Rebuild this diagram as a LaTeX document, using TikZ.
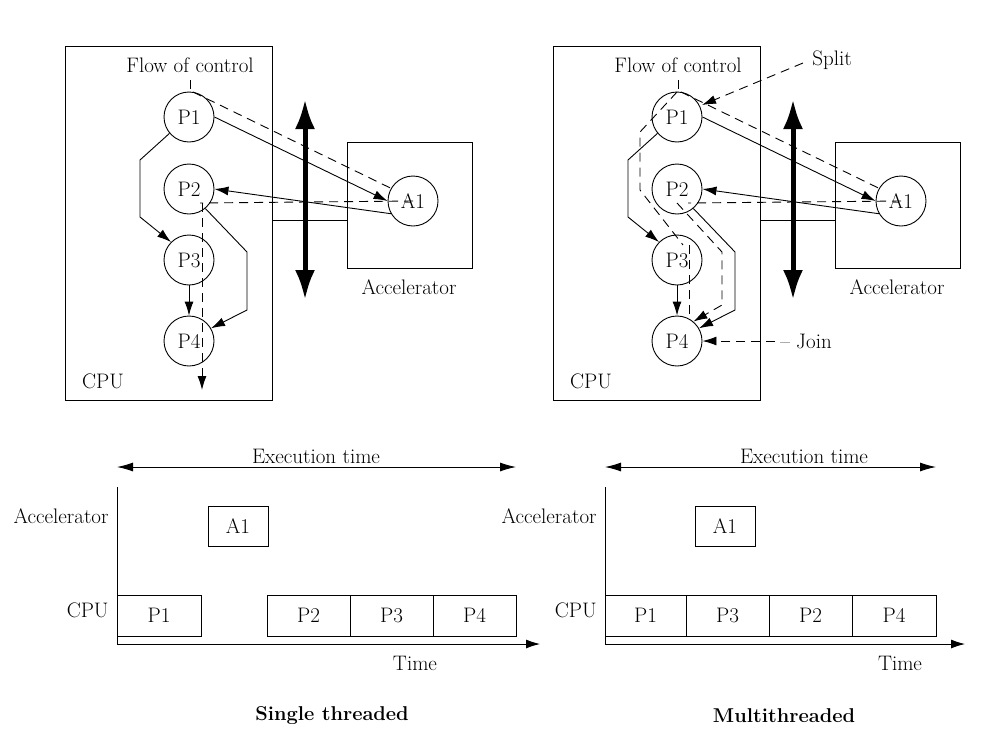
\documentclass[tikz,border=0pt]{standalone}
\usetikzlibrary{arrows.meta}
\begin{document}
\begin{tikzpicture}[x=1pt,y=-1pt,line width=0.9pt,
  font=\fontsize{21}{24}\selectfont,
  proc/.style={circle,draw,minimum size=50pt,inner sep=0pt},
  box/.style={draw,inner sep=0pt},
  arr/.style={-{Latex[length=14pt,width=9pt]}},
  dsh/.style={dash pattern=on 9pt off 6pt},
  big/.style={line width=5pt,{Latex[length=30pt,width=20pt]}-{Latex[length=30pt,width=20pt]}},
  lab/.style={inner sep=1pt}]
\useasboundingbox (0,0) rectangle (1003,747);
\foreach \o/\s in {0/L,488/R}{
\begin{scope}[xshift=\o pt]
  \node[box,minimum width=207pt,minimum height=354pt] (cpu\s) at (168.5,223) {};
  \node[box,minimum width=125pt,minimum height=126pt] (acc\s) at (409.5,205) {};
  \node[lab] (flow\s) at (190,65) {Flow of control};
  \node[lab] (cpul\s) at (103,381) {CPU};
  \node[lab] (accl\s) at (409,287) {Accelerator};
  \node[proc] (P1\s) at (189,117) {P1};
  \node[proc] (P2\s) at (189,189) {P2};
  \node[proc] (P3\s) at (189,260) {P3};
  \node[proc] (P4\s) at (189,341) {P4};
  \node[proc] (A1\s) at (413,201) {A1};
  \draw (cpu\s.east |- 0,220) -- (acc\s.west |- 0,220);
  \coordinate (bt\s) at (305,99); \coordinate (bb\s) at (305,300);
  \draw[big] (bt\s) -- (bb\s);
  \draw[dsh] (190,80) -- (190,92);
  \draw[arr] (P1\s.east) -- (A1\s.west);
  \draw[dsh] (193,92) -- (A1\s.150);
  \draw[arr] (A1\s.210) -- (P2\s.east);
  \draw[dsh] (A1\s.center) -- (200,203);
  \draw[arr] (P1\s.220) -- (140,160) -- (140,217) -- (P3\s.135);
  \draw[arr] (P2\s.-50) -- (247,252) -- (247,310) -- (P4\s.30);
  \draw[arr] (P3\s) -- (P4\s);
  % timeline
  \node[lab,anchor=east] (tacc\s) at (110,516) {Accelerator};
  \node[lab,anchor=east] (tcpu\s) at (110,610) {CPU};
  \node[lab] (exec\s) at (316,456) {Execution time};
  \coordinate (o\s) at (117,644);
  \coordinate (top\s) at (117,487);
\end{scope}}
% left specific
\draw[dsh,arr] (202,203) -- (202,390);
% right specific
\node[lab] (split) at (832,60) {Split};
\node[lab] (join) at (806,341) {-- Join};
\draw[dsh,arr] (803,63) -- (702,105);
\draw[dsh,arr] (775,341) -- (P4R.east);
\draw[dsh] (677,92) -- (640,132) -- (640,190) -- (683,245);
\draw[dsh] (689,245) -- (689,318);
\draw[dsh,arr] (677,203) -- (722,252) -- (722,305) -- (P4R.50);
% timelines
\draw[arr] (topL) -- (oL) -- (540,644);
\draw[arr] (topR) -- (oR) -- (965,644);
\draw[{Latex[length=16pt,width=9pt]}-{Latex[length=16pt,width=9pt]}] (117,467) -- (516,467);
\draw[{Latex[length=16pt,width=9pt]}-{Latex[length=16pt,width=9pt]}] (605,467) -- (936,467);
\node[box,minimum width=60pt,minimum height=40pt] (ta1L) at (238,526) {A1};
\node[box,minimum width=60pt,minimum height=40pt] (ta1R) at (725,526) {A1};
\foreach \n/\a/\b in {tp1L/117/201,tp2L/267/350,tp3L/350/433,tp4L/433/516,tp1R/605/686,tp3R/686/769,tp2R/769/852,tp4R/852/936}{
  \pgfmathsetmacro\w{\b-\a}\pgfmathsetmacro\c{(\a+\b)/2}
  \node[box,minimum width=\w pt,minimum height=41pt] (\n) at (\c,615.5) {};}
\foreach \n/\t in {tp1L/P1,tp2L/P2,tp3L/P3,tp4L/P4,tp1R/P1,tp3R/P3,tp2R/P2,tp4R/P4}
  \node at (\n) {\t};
\node[lab] (timeL) at (415,663) {Time};
\node[lab] (timeR) at (900,663) {Time};
\node[lab,font=\fontsize{20}{24}\selectfont\bfseries] (st) at (332,716) {Single threaded};
\node[lab,font=\fontsize{20}{24}\selectfont\bfseries] (mt) at (784,716) {Multithreaded};
\end{tikzpicture}
\end{document}
